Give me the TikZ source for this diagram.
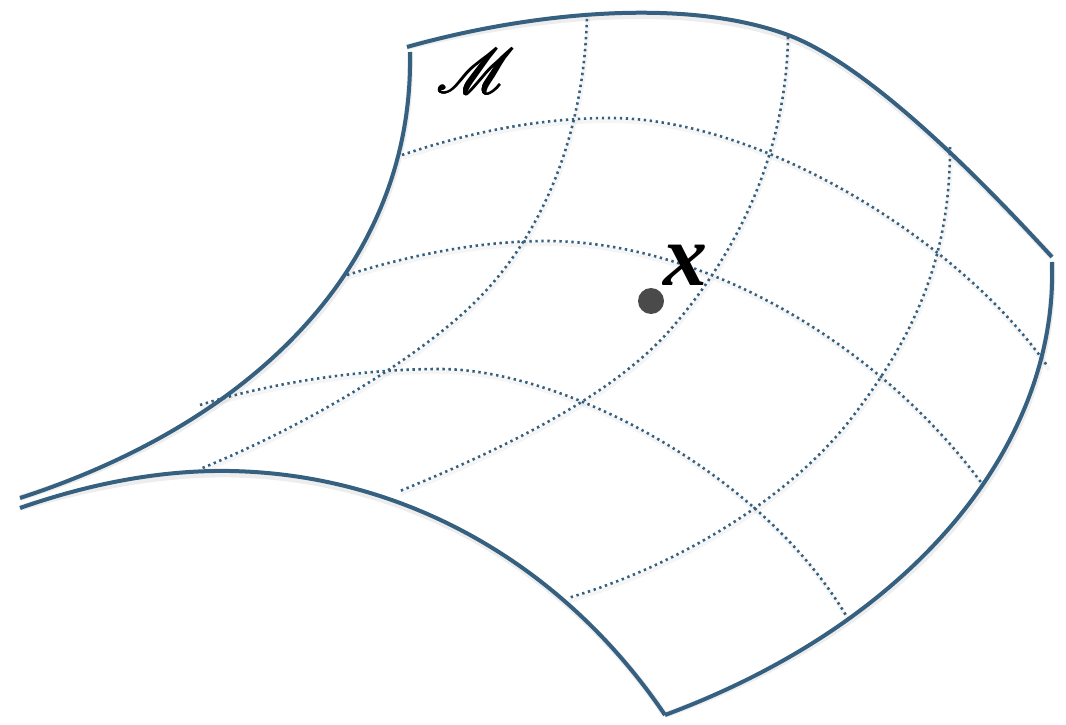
\documentclass[tikz,border=0pt]{standalone}
\usepackage{fontspec}
\usepackage{graphicx}
\usepackage{mathrsfs}
\newfontfamily\tms{Liberation Serif}
\definecolor{mblue}{RGB}{54,96,128}
\definecolor{dotgray}{RGB}{74,74,74}
\newcommand{\scriptM}{\resizebox{78pt}{!}{$\mathscr{M}$}}
\begin{document}
\begin{tikzpicture}[x=1pt,y=-1pt,
  edge/.style={draw=mblue,line width=4pt,line cap=butt},
  edgeshadow/.style={draw=black,opacity=0.07,line width=6pt,shift={(1.5,3.5)}},
  grid/.style={draw=mblue,line width=2.6pt,dash pattern=on 2.4pt off 3.6pt},
  gridshadow/.style={draw=black,opacity=0.04,line width=4pt,shift={(1,3)}},
  lbl/.style={inner sep=0pt},
]
\useasboundingbox (0,0) rectangle (1066,725);
% boundary corners
\coordinate (TL) at (407,47);
\coordinate (TR) at (1052,257);
\coordinate (LT) at (410,52);
\coordinate (LB) at (20,498);
\coordinate (BL) at (20,508);
\coordinate (BB) at (665,715);
\coordinate (RT) at (1052,262);
% shadows of the boundary
\foreach \s in {edgeshadow}{
\draw[\s] (TL) .. controls (520,15) and (680,-5) .. (788,35) .. controls (874,67) and (995,195) .. (TR);
\draw[\s] (LT) .. controls (414,260) and (260,420) .. (LB);
\draw[\s] (BL) .. controls (100,480) and (170,470) .. (230,471) .. controls (400,474) and (560,560) .. (BB);
\draw[\s] (RT) .. controls (1058,440) and (920,620) .. (BB);
}
% grid lines
\foreach \s in {gridshadow,grid}{
\draw[\s] (402,155) .. controls (470,132) and (540,118) .. (610,118) .. controls (760,118) and (960,240) .. (1048,367);
\draw[\s] (347,275) .. controls (410,255) and (480,241) .. (545,241) .. controls (705,241) and (880,345) .. (983,485);
\draw[\s] (200,405) .. controls (280,380) and (370,369) .. (440,369) .. controls (560,369) and (760,470) .. (847,617);
\draw[\s] (587,13) .. controls (585,130) and (545,230) .. (480,297) .. controls (430,349) and (320,420) .. (200,469);
\draw[\s] (788,37) .. controls (786,150) and (740,250) .. (670,330) .. controls (610,398) and (500,450) .. (400,491);
\draw[\s] (950,147) .. controls (950,250) and (920,330) .. (850,420) .. controls (790,497) and (680,565) .. (568,598);
}
% boundary
\draw[edge] (TL) .. controls (520,15) and (680,-5) .. (788,35) .. controls (874,67) and (995,195) .. (TR);
\draw[edge] (LT) .. controls (414,260) and (260,420) .. (LB);
\draw[edge] (BL) .. controls (100,480) and (170,470) .. (230,471) .. controls (400,474) and (560,560) .. (BB);
\draw[edge] (RT) .. controls (1058,440) and (920,620) .. (BB);
% point and labels
\node[circle,fill=dotgray,inner sep=0pt,minimum size=26pt] (xdot) at (651,301) {};
\node[lbl] (xlabel) at (685,265) {\fontsize{88}{88}\selectfont\tms\bfseries\itshape x};
\foreach \dx/\dy in {0.6/0,-0.6/0,0/0.6,0/-0.6}{
  \node[lbl] at (476+\dx,71+\dy) {\scriptM};
}
\node[lbl] (M) at (476,71) {\scriptM};
\end{tikzpicture}
\end{document}
